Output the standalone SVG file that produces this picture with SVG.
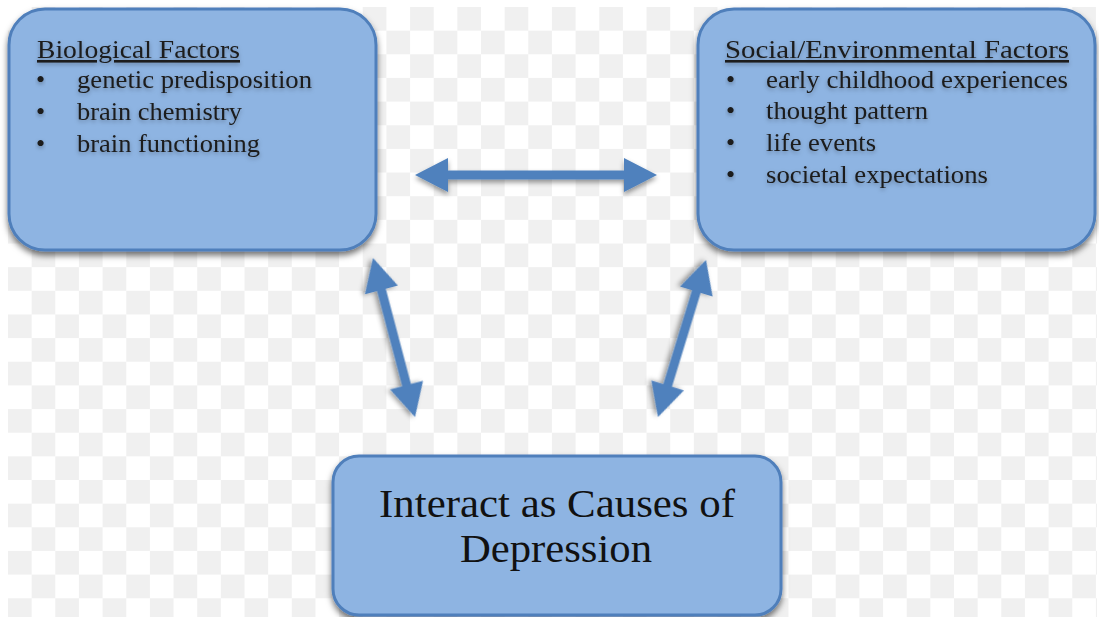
<svg xmlns="http://www.w3.org/2000/svg" width="1099" height="617" viewBox="0 0 1099 617">
<style>
.box{fill:#8eb4e2;stroke:#4f7fbb;stroke-width:3;filter:url(#sh)}
.t{font-family:"Liberation Serif","Times New Roman",serif;font-size:26px;fill:#1b1b1b;filter:url(#tsh)}
.big{font-family:"Liberation Serif","Times New Roman",serif;font-size:41px;fill:#111}
.arrow{fill:#4f81bd;filter:url(#ash)}
</style>
<defs>
<pattern id="chk" x="8" y="7" width="47.3" height="47.3" patternUnits="userSpaceOnUse">
<rect x="0" y="0" width="47.3" height="47.3" fill="#ffffff"/>
<rect x="0" y="23.65" width="23.65" height="23.65" fill="#f0f0f0"/>
<rect x="23.65" y="0" width="23.65" height="23.65" fill="#f0f0f0"/>
</pattern>
<filter id="sh" x="-10%" y="-10%" width="120%" height="130%">
<feDropShadow dx="0" dy="4" stdDeviation="3" flood-color="#000" flood-opacity="0.55"/>
</filter>
<filter id="ash" x="-20%" y="-20%" width="140%" height="140%">
<feDropShadow dx="0" dy="3" stdDeviation="2.5" flood-color="#000" flood-opacity="0.4"/>
</filter>
<filter id="tsh" x="-5%" y="-20%" width="110%" height="150%">
<feDropShadow dx="0" dy="2" stdDeviation="2" flood-color="#000" flood-opacity="0.3"/>
</filter>
</defs>
<rect width="1099" height="617" fill="#ffffff"/>
<rect x="8" y="7" width="1089" height="610" fill="url(#chk)"/>

<g id="connectors">
<polygon class="arrow" transform="translate(415,175)" points="0,0 33,-17 33,-4.5 209,-4.5 209,-17 242,0 209,17 209,4.5 33,4.5 33,17"/>
<polygon class="arrow" transform="translate(373,258) rotate(75.2)" points="0,0 33,-17 33,-4.5 131.5,-4.5 131.5,-17 164.5,0 131.5,17 131.5,4.5 33,4.5 33,17"/>
<polygon class="arrow" transform="translate(706,260) rotate(107)" points="0,0 33,-17 33,-4.5 131.2,-4.5 131.2,-17 164.2,0 131.2,17 131.2,4.5 33,4.5 33,17"/>
</g>

<g id="biological">
<rect class="box" x="9" y="9" width="367" height="241" rx="36"/>
<text class="t" x="37" y="58" text-decoration="underline" textLength="203" lengthAdjust="spacingAndGlyphs">Biological Factors</text>
<text class="t" x="36" y="88">•</text>
<text class="t" x="77" y="88" textLength="235" lengthAdjust="spacingAndGlyphs">genetic predisposition</text>
<text class="t" x="36" y="120">•</text>
<text class="t" x="77" y="120" textLength="165" lengthAdjust="spacingAndGlyphs">brain chemistry</text>
<text class="t" x="36" y="152">•</text>
<text class="t" x="77" y="152" textLength="183" lengthAdjust="spacingAndGlyphs">brain functioning</text>
</g>

<g id="social">
<rect class="box" x="698" y="9" width="397" height="241" rx="36"/>
<text class="t" x="725" y="58" text-decoration="underline" textLength="344" lengthAdjust="spacingAndGlyphs">Social/Environmental Factors</text>
<text class="t" x="726" y="88">•</text>
<text class="t" x="766" y="88" textLength="302" lengthAdjust="spacingAndGlyphs">early childhood experiences</text>
<text class="t" x="726" y="119">•</text>
<text class="t" x="766" y="119" textLength="162" lengthAdjust="spacingAndGlyphs">thought pattern</text>
<text class="t" x="726" y="151">•</text>
<text class="t" x="766" y="151" textLength="110" lengthAdjust="spacingAndGlyphs">life events</text>
<text class="t" x="726" y="183">•</text>
<text class="t" x="766" y="183" textLength="222" lengthAdjust="spacingAndGlyphs">societal expectations</text>
</g>

<g id="depression">
<rect class="box" x="333" y="456" width="448" height="159" rx="26"/>
<text class="big" x="379" y="517" textLength="356" lengthAdjust="spacingAndGlyphs">Interact as Causes of</text>
<text class="big" x="460" y="562" textLength="192" lengthAdjust="spacingAndGlyphs">Depression</text>
</g>
</svg>
